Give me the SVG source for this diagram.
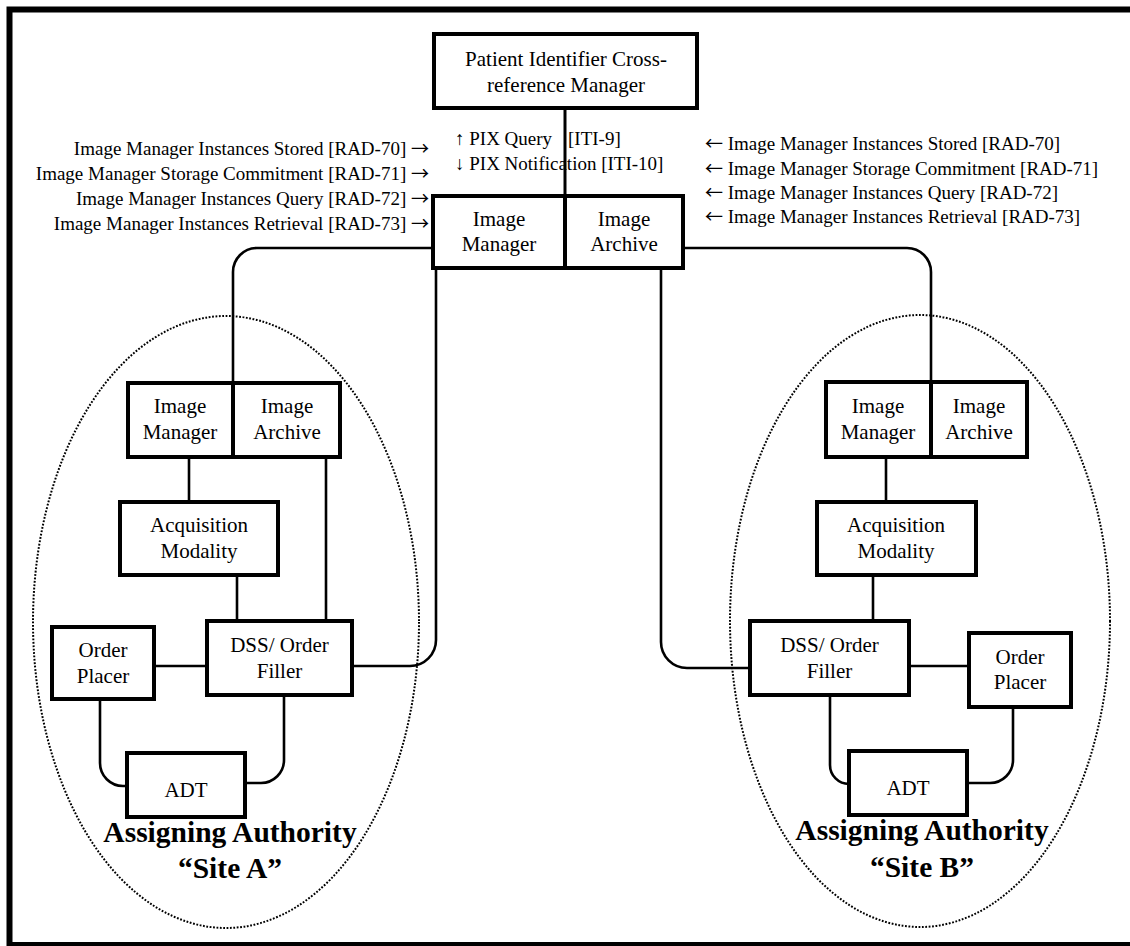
<svg xmlns="http://www.w3.org/2000/svg" width="1130" height="946" viewBox="0 0 1130 946">
<style>
  .box { fill: #fff; stroke: #000; stroke-width: 4; }
  .t { font-family: "Liberation Serif", "Times New Roman", serif; font-size: 21px; fill: #000; text-anchor: middle; }
  .lbl { font-family: "Liberation Serif", "Times New Roman", serif; font-size: 19px; fill: #000; }
  .arw { font-family: "Noto Sans CJK SC", "Liberation Serif", sans-serif; font-size: 18px; }
  .title { font-family: "Liberation Serif", "Times New Roman", serif; font-size: 29.5px; font-weight: bold; fill: #000; text-anchor: middle; }
  .conn { fill: none; stroke: #000; stroke-width: 2.6; }
  .site { fill: none; stroke: #000; stroke-width: 2; stroke-dasharray: 1.8 1.6; }
</style>
<rect width="1130" height="946" fill="#fff"/>
<rect x="9.5" y="9.5" width="1126" height="935.5" fill="none" stroke="#000" stroke-width="6"/>

<g id="siteA-region">
  <ellipse class="site" cx="226" cy="622" rx="193" ry="306"/>
</g>
<g id="siteB-region">
  <ellipse class="site" cx="920" cy="621" rx="190" ry="306"/>
</g>

<g id="connectors">
  <path class="conn" d="M565,108 V196" style="stroke-width:3"/>
  <path class="conn" d="M433,248 H257 A24,24 0 0 0 233,272 V383"/>
  <path class="conn" d="M436,268 V640 A26,26 0 0 1 410,666 H352"/>
  <path class="conn" d="M683,248 H907 A24,24 0 0 1 931,272 V382"/>
  <path class="conn" d="M661,268 V642 A26,26 0 0 0 687,668 H750"/>
  <path class="conn" d="M189,457 V502"/>
  <path class="conn" d="M326,457 V621"/>
  <path class="conn" d="M237,575 V621"/>
  <path class="conn" d="M154,666 H207"/>
  <path class="conn" d="M100,699 V763 A23,23 0 0 0 123,786 H127"/>
  <path class="conn" d="M284,695 V760 A23,23 0 0 1 261,783 H245"/>
  <path class="conn" d="M886,457 V502"/>
  <path class="conn" d="M873,575 V621"/>
  <path class="conn" d="M909,666 H969"/>
  <path class="conn" d="M830,695 V765 A19,19 0 0 0 849,784"/>
  <path class="conn" d="M1013,707 V760 A23,23 0 0 1 990,783 H967"/>
</g>

<g id="pix-manager">
  <rect class="box" x="434" y="34" width="263" height="74"/>
  <text class="t" x="566" y="66">Patient Identifier Cross-</text>
  <text class="t" x="566" y="92">reference Manager</text>
</g>

<g id="pix-labels">
  <text class="lbl" x="455" y="145">↑ PIX Query<tspan x="568">[ITI-9]</tspan></text>
  <text class="lbl" x="455" y="170">↓ PIX Notification [ITI-10]</text>
</g>

<g id="left-labels">
  <text class="lbl" x="429" y="155" text-anchor="end">Image Manager Instances Stored [RAD-70] <tspan class="arw">→</tspan></text>
  <text class="lbl" x="429" y="180" text-anchor="end">Image Manager Storage Commitment [RAD-71] <tspan class="arw">→</tspan></text>
  <text class="lbl" x="429" y="205" text-anchor="end">Image Manager Instances Query [RAD-72] <tspan class="arw">→</tspan></text>
  <text class="lbl" x="429" y="230" text-anchor="end">Image Manager Instances Retrieval [RAD-73] <tspan class="arw">→</tspan></text>
</g>

<g id="right-labels">
  <text class="lbl" x="705" y="150"><tspan class="arw">←</tspan> Image Manager Instances Stored [RAD-70]</text>
  <text class="lbl" x="705" y="175"><tspan class="arw">←</tspan> Image Manager Storage Commitment [RAD-71]</text>
  <text class="lbl" x="705" y="199"><tspan class="arw">←</tspan> Image Manager Instances Query [RAD-72]</text>
  <text class="lbl" x="705" y="223"><tspan class="arw">←</tspan> Image Manager Instances Retrieval [RAD-73]</text>
</g>

<g id="central-image-manager">
  <rect class="box" x="433" y="196" width="132" height="72"/>
  <text class="t" x="499" y="226">Image</text>
  <text class="t" x="499" y="251">Manager</text>
</g>
<g id="central-image-archive">
  <rect class="box" x="565" y="196" width="118" height="72"/>
  <text class="t" x="624" y="226">Image</text>
  <text class="t" x="624" y="251">Archive</text>
</g>

<g id="siteA-image-manager">
  <rect class="box" x="128" y="383" width="105" height="74"/>
  <text class="t" x="180" y="413">Image</text>
  <text class="t" x="180" y="439">Manager</text>
</g>
<g id="siteA-image-archive">
  <rect class="box" x="233" y="383" width="107" height="74"/>
  <text class="t" x="287" y="413">Image</text>
  <text class="t" x="287" y="439">Archive</text>
</g>
<g id="siteA-acquisition-modality">
  <rect class="box" x="120" y="502" width="158" height="73"/>
  <text class="t" x="199" y="532">Acquisition</text>
  <text class="t" x="199" y="558">Modality</text>
</g>
<g id="siteA-dss-order-filler">
  <rect class="box" x="207" y="621" width="145" height="74"/>
  <text class="t" x="279.5" y="652">DSS/ Order</text>
  <text class="t" x="279.5" y="678">Filler</text>
</g>
<g id="siteA-order-placer">
  <rect class="box" x="52" y="627" width="102" height="72"/>
  <text class="t" x="103" y="657">Order</text>
  <text class="t" x="103" y="683">Placer</text>
</g>
<g id="siteA-adt">
  <rect class="box" x="127" y="753" width="118" height="64"/>
  <text class="t" x="186" y="797">ADT</text>
</g>
<g id="siteA-title">
  <text class="title" x="230" y="842">Assigning Authority</text>
  <text class="title" x="230" y="878">“Site A”</text>
</g>

<g id="siteB-image-manager">
  <rect class="box" x="826" y="382" width="105" height="75"/>
  <text class="t" x="878" y="413">Image</text>
  <text class="t" x="878" y="439">Manager</text>
</g>
<g id="siteB-image-archive">
  <rect class="box" x="931" y="382" width="96" height="75"/>
  <text class="t" x="979" y="413">Image</text>
  <text class="t" x="979" y="439">Archive</text>
</g>
<g id="siteB-acquisition-modality">
  <rect class="box" x="817" y="502" width="159" height="73"/>
  <text class="t" x="896" y="532">Acquisition</text>
  <text class="t" x="896" y="558">Modality</text>
</g>
<g id="siteB-dss-order-filler">
  <rect class="box" x="750" y="621" width="159" height="74"/>
  <text class="t" x="829.5" y="652">DSS/ Order</text>
  <text class="t" x="829.5" y="678">Filler</text>
</g>
<g id="siteB-order-placer">
  <rect class="box" x="969" y="633" width="102" height="74"/>
  <text class="t" x="1020" y="664">Order</text>
  <text class="t" x="1020" y="689">Placer</text>
</g>
<g id="siteB-adt">
  <rect class="box" x="849" y="751" width="118" height="64"/>
  <text class="t" x="908" y="795">ADT</text>
</g>
<g id="siteB-title">
  <text class="title" x="922" y="840">Assigning Authority</text>
  <text class="title" x="922" y="877">“Site B”</text>
</g>
</svg>
